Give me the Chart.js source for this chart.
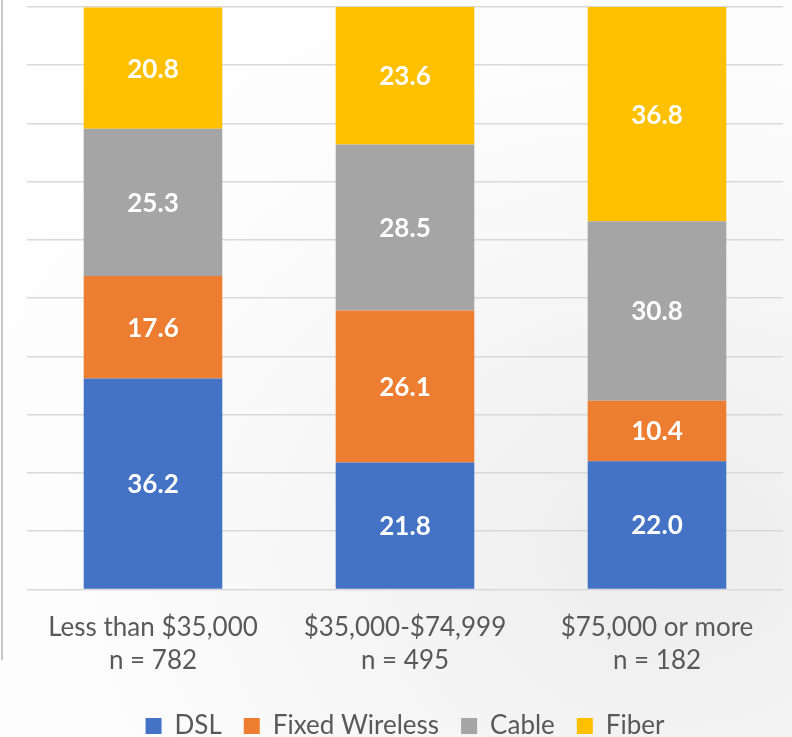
<!DOCTYPE html>
<html lang="en">
<head>
<meta charset="UTF-8">
<title>Internet type by income</title>
<script src="https://cdn.jsdelivr.net/npm/chart.js"></script>
<style>
    html, body {
        margin: 0;
        padding: 0;
    }
    body {
        width: 792px;
        height: 737px;
        overflow: hidden;
        background: radial-gradient(ellipse at 85% 75%, #ececec 0%, #f6f6f6 35%, #fdfdfd 65%, #ffffff 100%);
    }
    .wrap {
        position: relative;
        width: 792px;
        height: 737px;
    }
</style>
</head>
<body>
<div class="wrap">
    <canvas id="grafico"></canvas>
</div>

<script>
const categorias = [
    ['Less than $35,000', 'n = 782'],
    ['$35,000-$74,999', 'n = 495'],
    ['$75,000 or more', 'n = 182']
];
const series = ['DSL', 'Fixed Wireless', 'Cable', 'Fiber'];
const dsl = [36.2, 21.8, 22.0];
const fixedWireless = [17.6, 26.1, 10.4];
const cable = [25.3, 28.5, 30.8];
const fiber = [20.8, 23.6, 36.8];
const cores = ['#4472C4', '#ED7D31', '#A5A5A5', '#FFC000'];

const valores = [dsl, fixedWireless, cable, fiber];
const fonte = 'Lato, "Open Sans", sans-serif';

// white value labels in the middle of each segment
const rotulos = {
    id: 'rotulos',
    afterDatasetsDraw(chart) {
        const ctx = chart.ctx;
        ctx.save();
        ctx.fillStyle = '#ffffff';
        ctx.font = 'bold 26px ' + fonte;
        ctx.textAlign = 'center';
        ctx.textBaseline = 'middle';
        chart.data.datasets.forEach((ds, i) => {
            chart.getDatasetMeta(i).data.forEach((bar, j) => {
                const p = bar.getProps(['x', 'y', 'base'], true);
                ctx.fillText(ds.data[j].toFixed(1), p.x, (p.y + p.base) / 2 + 1);
            });
        });
        ctx.restore();
    }
};

// thin frame line on the left edge
const linhaEsquerda = {
    id: 'linhaEsquerda',
    beforeDraw(chart) {
        const ctx = chart.ctx;
        ctx.save();
        ctx.strokeStyle = '#b4b4b4';
        ctx.lineWidth = 1.5;
        ctx.beginPath();
        ctx.moveTo(2, 0);
        ctx.lineTo(2, 660);
        ctx.stroke();
        ctx.restore();
    }
};

new Chart(document.getElementById('grafico'), {
    type: 'bar',
    data: {
        labels: categorias,
        datasets: series.map((nome, i) => ({
            label: nome,
            data: valores[i],
            backgroundColor: cores[i],
            borderWidth: 0,
            barPercentage: 0.55,
            categoryPercentage: 1
        }))
    },
    options: {
        responsive: true,
        maintainAspectRatio: false,
        animation: false,
        layout: {
            padding: { left: 27, right: 9, top: 7, bottom: -12 }
        },
        scales: {
            x: {
                stacked: true,
                grid: { display: false },
                border: { display: false },
                ticks: {
                    color: '#595959',
                    padding: 13,
                    font: { size: 26, family: fonte, lineHeight: 1.3 }
                }
            },
            y: {
                stacked: true,
                min: 0,
                max: 100,
                ticks: { display: false, stepSize: 10 },
                border: { display: false },
                grid: {
                    color: '#d9d9d9',
                    lineWidth: 1.5,
                    drawTicks: false
                }
            }
        },
        plugins: {
            legend: {
                position: 'bottom',
                labels: {
                    color: '#595959',
                    boxWidth: 16,
                    boxHeight: 16,
                    padding: 22,
                    font: { size: 26, family: fonte }
                }
            },
            tooltip: { enabled: false }
        }
    },
    plugins: [rotulos, linhaEsquerda]
});
</script>
</body>
</html>
